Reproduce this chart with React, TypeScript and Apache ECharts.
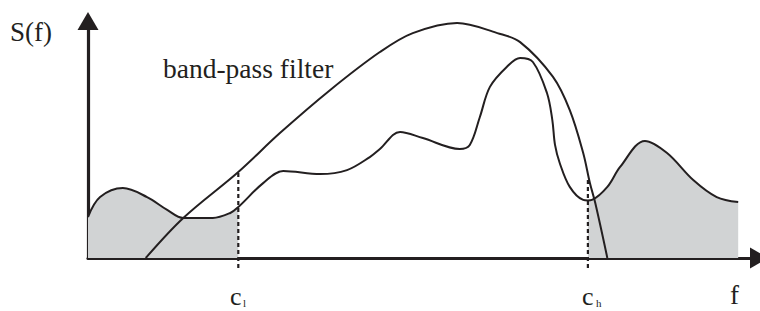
import React, { useEffect, useRef } from "react";
import * as echarts from "echarts";

// Spectrum S(f) (f in 0..100, S in 0..100)
const specF = [0, 1.8, 5.2, 8.8, 11.8, 14.2, 18.6, 21.2, 22.4, 26.1, 29.1, 34.6, 38.6, 42.0, 43.5, 46.5, 49.9, 55.4, 56.9, 58.4, 59.9, 62.4, 64.4, 66.3, 68.4, 69.2, 69.6, 70.3, 71.8, 73.8, 74.5, 75.1, 77.4, 79.3, 83.0, 86.3, 90.2, 93.7, 96.9];
const specS = [17.3, 25.7, 29.5, 25.7, 20.3, 16.9, 16.9, 19.0, 21.5, 31.6, 36.7, 35.4, 37.1, 42.6, 46.0, 53.2, 50.6, 46.0, 47.7, 59.5, 72.2, 80.6, 84.4, 82.7, 69.6, 58.2, 47.7, 40.1, 30.0, 24.5, 24.3, 24.5, 30.0, 38.4, 49.4, 44.3, 32.9, 25.7, 23.6];

// Band-pass filter response
const filtF = [8.6, 14.2, 22.4, 28.6, 36.1, 43.5, 48.4, 55.0, 61.0, 64.4, 69.3, 71.8, 73.8, 74.8, 75.6, 77.4];
const filtS = [0, 16.9, 36.3, 52.7, 70.9, 86.9, 94.9, 99.2, 94.9, 91.1, 76.4, 62.4, 44.3, 31.6, 23.2, 0];

// Cut-off frequencies and the heights of their dotted markers
const cutoffs = [22.4, 74.5];
const cutoffTops = [36.3, 34.0];
const cutoffBottom = -4.2;

const GRAY = "#d1d3d4";
const INK = "#231f20";
const FONT = "'Liberation Serif', 'Times New Roman', serif";

export default function App() {
  const ref = useRef<HTMLDivElement>(null);
  useEffect(() => {
    if (!ref.current) return;
    const chart = echarts.init(ref.current, null, { renderer: "svg" });
    const spec = specF.map((f, i) => [f, specS[i]]);
    const filt = filtF.map((f, i) => [f, filtS[i]]);
    const regionI = spec.filter((p) => p[0] <= cutoffs[0]);
    const regionII = spec.filter((p) => p[0] >= cutoffs[1]);
    const SM = 0.35;
    const txt = (text: string, x: number, y: number, size: number, align = "left") => ({
      type: "text",
      x,
      y,
      style: { text, font: `${size}px ${FONT}`, fill: INK, align, verticalAlign: "middle" },
    });
    chart.setOption({
      animation: false,
      grid: { left: 88, right: 1, top: 21, bottom: 53 },
      xAxis: {
        type: "value",
        min: 0,
        max: 100,
        axisLine: { show: true, symbol: ["none", "triangle"], symbolSize: [21, 18], lineStyle: { color: INK, width: 3.2 } },
        axisTick: { show: false },
        axisLabel: { show: false },
        splitLine: { show: false },
      },
      yAxis: {
        type: "value",
        min: 0,
        max: 100,
        axisLine: { show: true, symbol: ["none", "triangle"], symbolSize: [21, 18], lineStyle: { color: INK, width: 3.2 } },
        axisTick: { show: false },
        axisLabel: { show: false },
        splitLine: { show: false },
      },
      series: [
        { type: "line", data: regionI, smooth: SM, symbol: "none", clip: false, lineStyle: { width: 0, opacity: 0 }, areaStyle: { color: GRAY, opacity: 1 }, z: 1 },
        { type: "line", data: regionII, smooth: SM, symbol: "none", clip: false, lineStyle: { width: 0, opacity: 0 }, areaStyle: { color: GRAY, opacity: 1 }, z: 1 },
        ...cutoffs.map((c, i) => ({
          type: "line",
          data: [[c, cutoffBottom], [c, cutoffTops[i]]],
          symbol: "none",
          clip: false,
          lineStyle: { color: INK, width: 2.2, type: [4, 3] },
          z: 2,
        })),
        { type: "line", data: spec, smooth: SM, symbol: "none", clip: false, lineStyle: { color: INK, width: 2 }, z: 3 },
        { type: "line", data: filt, smooth: SM, symbol: "none", clip: false, lineStyle: { color: INK, width: 2 }, z: 3 },
      ],
      graphic: [
        txt("S(f)", 10, 32, 27),
        txt("band-pass filter", 163, 68, 27.5),
        txt("I", 122, 226, 27, "center"),
        txt("II", 663, 217, 27, "center"),
        txt("c", 230, 296, 26),
        txt("l", 243, 303, 11),
        txt("c", 582, 296, 26),
        txt("h", 596, 303, 11),
        txt("f", 730, 295, 27),
      ],
    });
    return () => chart.dispose();
  }, []);
  return <div ref={ref} style={{ position: "absolute", left: 0, top: 0, width: 760, height: 311 }} />;
}
